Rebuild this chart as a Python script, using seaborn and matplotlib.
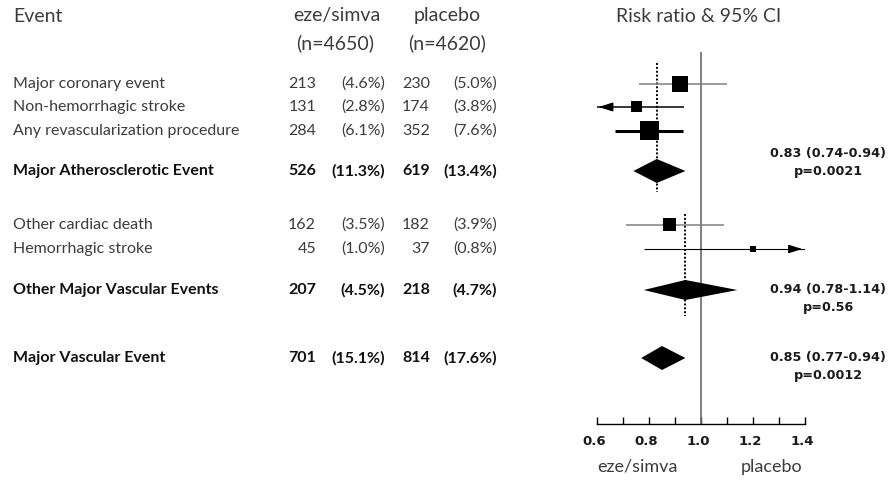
import numpy as np
import pandas as pd
import matplotlib
matplotlib.use('Agg')
import matplotlib.pyplot as plt
import matplotlib.transforms as mtransforms
import seaborn as sns

# table data
events = ['Major coronary event', 'Non-hemorrhagic stroke', 'Any revascularization procedure',
          'Major Atherosclerotic Event', 'Other cardiac death', 'Hemorrhagic stroke',
          'Other Major Vascular Events', 'Major Vascular Event']
is_total = [False, False, False, True, False, False, True, True]
n_es = [213, 131, 284, 526, 162, 45, 207, 701]
pct_es = [4.6, 2.8, 6.1, 11.3, 3.5, 1.0, 4.5, 15.1]
n_pl = [230, 174, 352, 619, 182, 37, 218, 814]
pct_pl = [5.0, 3.8, 7.6, 13.4, 3.9, 0.8, 4.7, 17.6]

# risk ratios and 95% CI
rr = [0.92, 0.75, 0.80, 0.83, 0.88, 1.20, 0.94, 0.85]
ci_lo = [0.76, 0.59, 0.67, 0.74, 0.71, 0.78, 0.78, 0.77]
ci_hi = [1.10, 0.935, 0.93, 0.94, 1.09, 1.86, 1.14, 0.94]
summary_text = {3: ('0.83 (0.74-0.94)', 'p=0.0021'),
                6: ('0.94 (0.78-1.14)', 'p=0.56'),
                7: ('0.85 (0.77-0.94)', 'p=0.0012')}
xticks_major = [0.6, 0.8, 1.0, 1.2, 1.4]
xticks_minor = [0.7, 0.9, 1.1, 1.3]

# layout (pixel rows) and styles
W, H = 894, 482
row_y = [84, 107, 131, 171, 225, 249, 290, 358]
box_px = [16, 11, 19, 0, 13, 6, 0, 0]
line_col = ['#808080', 'black', 'black', None, '#808080', 'black', None, None]
line_w = [1.1, 1.1, 2.2, 0, 1.1, 0.8, 0, 0]
diam_h = {3: 24, 6: 20, 7: 24}
XMIN, XMAX = 0.6, 1.4

sns.set_theme(style='white')
plt.rcParams['font.family'] = ['Lato', 'DejaVu Sans']

fig = plt.figure(figsize=(W / 100, H / 100), dpi=100)
ax = fig.add_axes([597 / W, (H - 424) / H, 208 / W, (424 - 52) / H])
ax.set_xlim(XMIN, XMAX)
ax.set_ylim(424, 52)
ax.patch.set_alpha(0)


def put(x, y, s, **kw):
    fig.text(x / W, 1 - y / H, s, **kw)


txt_col = '#3c3c3c'
hdr = dict(fontsize=14, color=txt_col, va='center')
put(13, 16, 'Event', **hdr)
put(337, 16, 'eze/simva', ha='center', **hdr)
put(335, 43, '(n=4650)', ha='center', **hdr)
put(447, 16, 'placebo', ha='center', **hdr)
put(447, 43, '(n=4620)', ha='center', **hdr)
put(699, 16, 'Risk ratio & 95% CI', ha='center', **hdr)

for i, name in enumerate(events):
    y = row_y[i]
    kw = dict(fontsize=11.5, va='center',
              color='#111111' if is_total[i] else txt_col,
              fontweight='bold' if is_total[i] else 'normal')
    put(13, y, name, **kw)
    put(316, y, f'{n_es[i]}', ha='right', **kw)
    put(385, y, f'({pct_es[i]:.1f}%)', ha='right', **kw)
    put(430, y, f'{n_pl[i]}', ha='right', **kw)
    put(497, y, f'({pct_pl[i]:.1f}%)', ha='right', **kw)

# reference line at 1 and pooled estimate dotted lines
ax.plot([1.0, 1.0], [52, 424], color='#6a6a6a', lw=1.2, zorder=1)
ax.plot([rr[3], rr[3]], [63, 192], color='black', lw=1.4, ls=(0, (1, 1)), zorder=1)
ax.plot([rr[6], rr[6]], [214, 316], color='black', lw=1.4, ls=(0, (1, 1)), zorder=1)

# individual events: CI lines, arrows when off-scale
ind = [i for i in range(len(events)) if not is_total[i]]
for i in ind:
    lo, hi = max(ci_lo[i], XMIN), min(ci_hi[i], XMAX)
    ax.plot([lo, hi], [row_y[i]] * 2, color=line_col[i], lw=line_w[i], zorder=2,
            solid_capstyle='butt')
    if ci_lo[i] < XMIN:
        ax.annotate('', xy=(XMIN - 0.005, row_y[i]), xytext=(XMIN + 0.04, row_y[i]),
                    arrowprops=dict(arrowstyle='-|>,head_length=0.7,head_width=0.22',
                                    color=line_col[i], lw=line_w[i]),
                    annotation_clip=False)
    if ci_hi[i] > XMAX:
        ax.annotate('', xy=(XMAX, row_y[i]), xytext=(XMAX - 0.04, row_y[i]),
                    arrowprops=dict(arrowstyle='-|>,head_length=0.7,head_width=0.22',
                                    color=line_col[i], lw=line_w[i]),
                    annotation_clip=False)

pts = pd.DataFrame({'rr': [rr[i] for i in ind], 'y': [row_y[i] for i in ind]})
sns.scatterplot(data=pts, x='rr', y='y', marker='s', color='black', ax=ax,
                s=[(box_px[i] * 0.72) ** 2 for i in ind], linewidth=0, zorder=3,
                legend=False)

# pooled diamonds
for i, (l1, l2) in summary_text.items():
    y, h = row_y[i], diam_h[i]
    ax.fill([ci_lo[i], rr[i], ci_hi[i], rr[i]], [y, y - h / 2, y, y + h / 2],
            color='black', lw=0, zorder=3)
    if i == 3:
        y1, y2 = y - 17, y
    else:
        y1, y2 = y, y + 17
    st = dict(family='DejaVu Sans', fontweight='bold', fontsize=9.2,
              color='#1a1a1a', ha='center', va='center')
    put(828, y1, l1, **st)
    put(828, y2, l2, **st)

# axis
for sp in ['top', 'right', 'left']:
    ax.spines[sp].set_visible(False)
ax.spines['bottom'].set_color('black')
ax.spines['bottom'].set_linewidth(1.0)
ax.set_xlabel('')
ax.set_ylabel('')
ax.set_yticks([])
ax.set_xticks(xticks_major)
ax.set_xticks(xticks_minor, minor=True)
ax.set_xticklabels([f'{v:.1f}' for v in xticks_major], family='DejaVu Sans',
                   fontweight='bold', fontsize=9.5, color='#1a1a1a')
ax.tick_params(axis='x', which='both', direction='in', length=5, width=1,
               color='black', pad=8, bottom=True)
shift = mtransforms.ScaledTranslation(-3 / 100, 0, fig.dpi_scale_trans)
for lab in ax.get_xticklabels():
    lab.set_transform(lab.get_transform() + shift)

put(637, 467, 'eze/simva', fontsize=13, color=txt_col, ha='center', va='center')
put(772, 467, 'placebo', fontsize=13, color=txt_col, ha='center', va='center')

fig.savefig('out.png', dpi=100)
